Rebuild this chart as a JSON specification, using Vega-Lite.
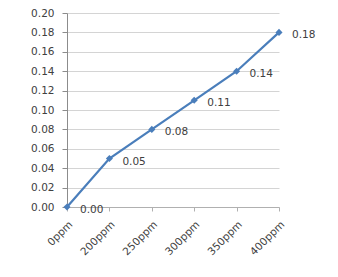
{
  "$schema": "https://vega.github.io/schema/vega-lite/v6.json",
  "width": 212,
  "height": 194,
  "padding": {"left": 67, "top": 13, "right": 59, "bottom": 70},
  "autosize": {"type": "none"},
  "background": "white",
  "config": {
    "view": {"stroke": null},
    "font": "DejaVu Sans",
    "axis": {"labelFont": "DejaVu Sans", "labelFontSize": 10.5, "labelColor": "#404040"}
  },
  "data": {
    "values": [
      {"conc": "0ppm", "value": 0.00},
      {"conc": "200ppm", "value": 0.05},
      {"conc": "250ppm", "value": 0.08},
      {"conc": "300ppm", "value": 0.11},
      {"conc": "350ppm", "value": 0.14},
      {"conc": "400ppm", "value": 0.18}
    ]
  },
  "encoding": {
    "x": {
      "field": "conc", "type": "ordinal", "sort": null,
      "scale": {"type": "point", "padding": 0},
      "axis": {
        "title": null, "labelAngle": -45, "labelAlign": "right", "labelBaseline": "top",
        "domainColor": "#b0b0b0", "tickColor": "#b0b0b0", "tickSize": 4, "labelPadding": 8, "grid": false
      }
    },
    "y": {
      "field": "value", "type": "quantitative",
      "scale": {"domain": [0, 0.2], "nice": false},
      "axis": {
        "title": null, "values": [0, 0.02, 0.04, 0.06, 0.08, 0.1, 0.12, 0.14, 0.16, 0.18, 0.2],
        "format": ".2f", "gridColor": "#d4d4d4", "domainColor": "#8c8c8c", "tickColor": "#8c8c8c",
        "tickSize": 5, "labelPadding": 8
      }
    }
  },
  "layer": [
    {"mark": {"type": "line", "color": "#4a7ebb", "strokeWidth": 2.2}},
    {"mark": {"type": "point", "shape": "diamond", "filled": true, "color": "#4a7ebb", "size": 50, "opacity": 1}},
    {"mark": {"type": "text", "align": "left", "dx": 13, "dy": 3, "fontSize": 10.5, "color": "#404040"},
     "encoding": {"text": {"field": "value", "type": "quantitative", "format": ".2f"}}}
  ]
}
